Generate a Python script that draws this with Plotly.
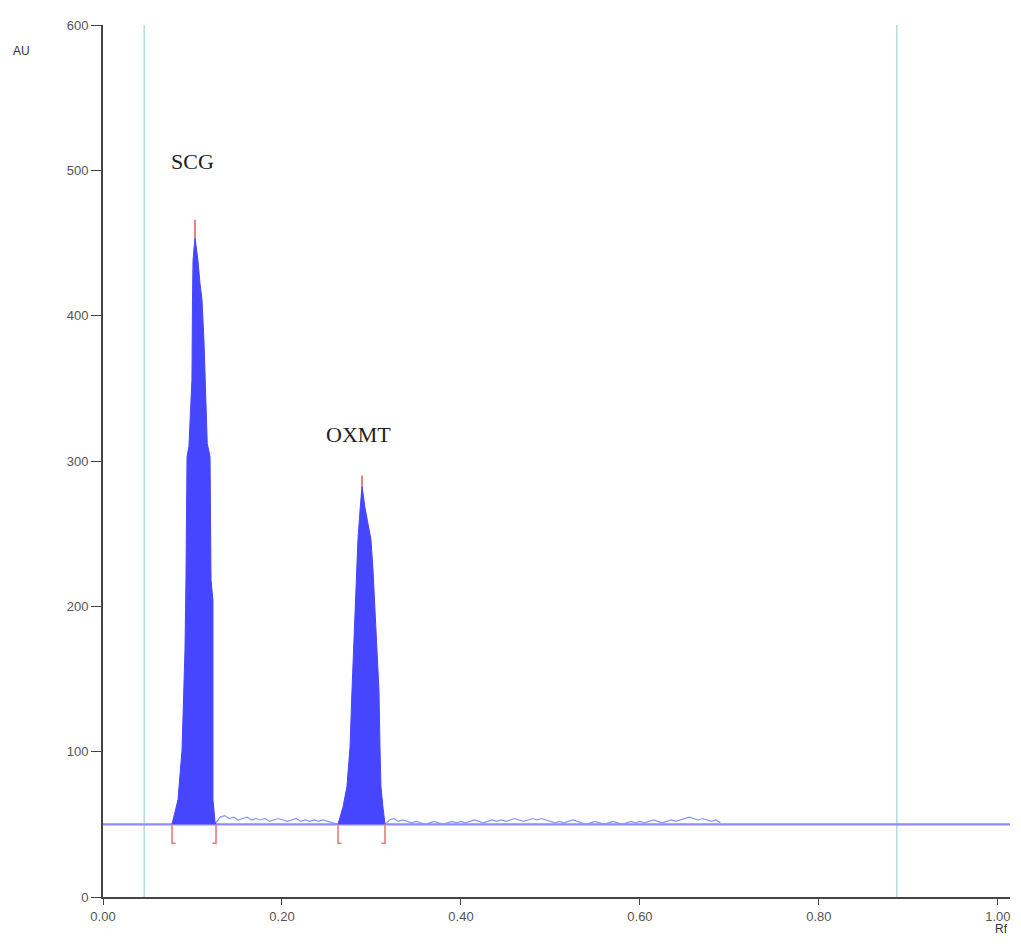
import plotly.graph_objects as go

# ---------------- data ----------------
# Peak 1 (SCG) outline: Rf and AU
scg_rf = [0.0771, 0.0838, 0.0883, 0.0916, 0.0927, 0.0939, 0.0960, 0.0994, 0.1000, 0.1006,
          0.1028, 0.1061, 0.1084, 0.1106, 0.1128, 0.1140, 0.1165, 0.1196, 0.1207, 0.1229,
          0.1229, 0.1251, 0.1263]
scg_au = [50, 67, 101, 170, 218, 303, 310, 356, 411, 438,
          454, 438, 422, 411, 383, 356, 312, 303, 218, 204,
          67, 52, 50]

# Peak 2 (OXMT) outline
oxmt_rf = [0.2626, 0.2682, 0.2726, 0.2760, 0.2782, 0.2816, 0.2838, 0.2849, 0.2872, 0.2894,
           0.2927, 0.2960, 0.2994, 0.3017, 0.3039, 0.3084, 0.3095, 0.3106, 0.3128, 0.3151]
oxmt_au = [50, 62, 76, 103, 142, 197, 232, 246, 266, 283,
           268, 258, 246, 225, 197, 142, 103, 76, 62, 50]

# noisy signal between / after peaks
noise1_rf = [0.126, 0.131, 0.136, 0.141, 0.146, 0.151, 0.156, 0.161, 0.166, 0.171,
             0.176, 0.181, 0.186, 0.191, 0.196, 0.201, 0.206, 0.211, 0.216, 0.221,
             0.226, 0.231, 0.236, 0.241, 0.246, 0.251, 0.256, 0.2626]
noise1_au = [51, 55, 56, 54, 55, 53, 54, 55, 53, 54,
             53, 54, 52, 53, 54, 53, 52, 53, 54, 52,
             53, 52, 53, 52, 53, 52, 51, 50]
noise2_rf = [0.3151, 0.320, 0.325, 0.330, 0.335, 0.340, 0.345, 0.350, 0.355, 0.360,
             0.365, 0.370, 0.375, 0.380, 0.385, 0.390, 0.395, 0.400, 0.405, 0.410,
             0.415, 0.420, 0.425, 0.430, 0.435, 0.440, 0.445, 0.450, 0.455, 0.460,
             0.465, 0.470, 0.475, 0.480, 0.485, 0.490, 0.495, 0.500, 0.505, 0.510,
             0.515, 0.520, 0.525, 0.530, 0.535, 0.540, 0.545, 0.550, 0.555, 0.560,
             0.565, 0.570, 0.575, 0.580, 0.585, 0.590, 0.595, 0.600, 0.605, 0.610,
             0.615, 0.620, 0.625, 0.630, 0.635, 0.640, 0.645, 0.650, 0.655, 0.660,
             0.665, 0.670, 0.675, 0.680, 0.685, 0.690]
noise2_au = [50, 53, 54, 52, 53, 52, 51, 52, 51, 50,
             51, 52, 51, 50, 51, 52, 51, 52, 51, 52,
             53, 52, 51, 52, 53, 52, 53, 52, 53, 54,
             53, 52, 53, 54, 53, 54, 53, 52, 51, 52,
             51, 52, 53, 52, 51, 50, 51, 52, 51, 50,
             51, 52, 51, 50, 51, 52, 51, 52, 51, 52,
             53, 52, 51, 52, 53, 52, 53, 54, 55, 54,
             53, 54, 53, 52, 53, 51]

baseline_rf = [0.0, 1.022]
baseline_au = [50, 50]

# integration boundaries and apex markers
peak_start = [0.0771, 0.2626]
peak_end = [0.1263, 0.3151]
apex_rf = [0.1028, 0.2894]
apex_au = [454, 283]
apex_mark_au = [466, 290]

# front / start lines
track_lines = [0.046, 0.887]

# labels
peak_names = ["SCG", "OXMT"]
label_rf = [0.1, 0.285]
label_au = [506, 318]

y_tickvals = [0, 100, 200, 300, 400, 500, 600]
y_ticktext = ["0", "100", "200", "300", "400", "500", "600"]
x_tickvals = [0.0, 0.2, 0.4, 0.6, 0.8, 1.0]
x_ticktext = ["0.00", "0.20", "0.40", "0.60", "0.80", "1.00"]

# ---------------- figure ----------------
fig = go.Figure()

# track lines
for xv in track_lines:
    fig.add_trace(go.Scatter(x=[xv, xv], y=[0, 600], mode="lines",
                             line=dict(color="#9fd6d2", width=1.2), hoverinfo="skip"))

# baseline
fig.add_trace(go.Scatter(x=baseline_rf, y=baseline_au, mode="lines",
                         line=dict(color="#8f8cf5", width=2.2), hoverinfo="skip"))

# noise
fig.add_trace(go.Scatter(x=noise1_rf, y=noise1_au, mode="lines",
                         line=dict(color="#7d9cf0", width=1.2), hoverinfo="skip"))
fig.add_trace(go.Scatter(x=noise2_rf, y=noise2_au, mode="lines",
                         line=dict(color="#7d9cf0", width=1.2), hoverinfo="skip"))

# peaks
for rf, au in [(scg_rf, scg_au), (oxmt_rf, oxmt_au)]:
    fig.add_trace(go.Scatter(x=rf, y=au, mode="lines", fill="toself",
                             fillcolor="#4646ff", line=dict(color="#4646ff", width=1),
                             hoverinfo="skip"))

# apex markers (red tick above apex)
for xa, ya, ym in zip(apex_rf, apex_au, apex_mark_au):
    fig.add_trace(go.Scatter(x=[xa, xa], y=[ya, ym], mode="lines",
                             line=dict(color="#f08080", width=2), hoverinfo="skip"))

# integration brackets
for xs, xe in zip(peak_start, peak_end):
    fig.add_trace(go.Scatter(x=[xs, xs, xs + 0.004], y=[50, 37, 37], mode="lines",
                             line=dict(color="#f07070", width=1.5), hoverinfo="skip"))
    fig.add_trace(go.Scatter(x=[xe, xe, xe - 0.004], y=[50, 37, 37], mode="lines",
                             line=dict(color="#f07070", width=1.5), hoverinfo="skip"))

# peak labels
for name, xr, ya in zip(peak_names, label_rf, label_au):
    fig.add_annotation(x=xr, y=ya, text=name, showarrow=False,
                       font=dict(family="Liberation Serif", size=22, color="#222222"))

# axis titles as annotations
fig.add_annotation(xref="paper", yref="paper", x=-0.1016, y=0.98, text="AU",
                   showarrow=False, xanchor="left",
                   font=dict(family="Liberation Sans", size=12, color="#333333"))
fig.add_annotation(xref="paper", yref="paper", x=1.0, y=-0.0367, text="Rf",
                   showarrow=False, xanchor="right", yanchor="middle",
                   font=dict(family="Liberation Sans", size=12, color="#333333"))

fig.update_layout(
    width=1005, height=928,
    margin=dict(l=95, r=3, t=17, b=39),
    paper_bgcolor="white", plot_bgcolor="white",
    showlegend=False,
    xaxis=dict(range=[0, 1.0135], tickvals=x_tickvals, ticktext=x_ticktext,
               showgrid=False, zeroline=False, showline=True, linecolor="#444444",
               linewidth=2, ticks="outside", ticklen=6, tickcolor="#444444",
               tickfont=dict(family="Liberation Sans", size=13, color="#555555")),
    yaxis=dict(range=[0, 600], tickvals=y_tickvals, ticktext=y_ticktext,
               showgrid=False, zeroline=False, showline=True, linecolor="#444444",
               linewidth=2, ticks="outside", ticklen=10, tickcolor="#444444",
               tickfont=dict(family="Liberation Sans", size=13, color="#555555")),
)

fig.write_html("out.html")
